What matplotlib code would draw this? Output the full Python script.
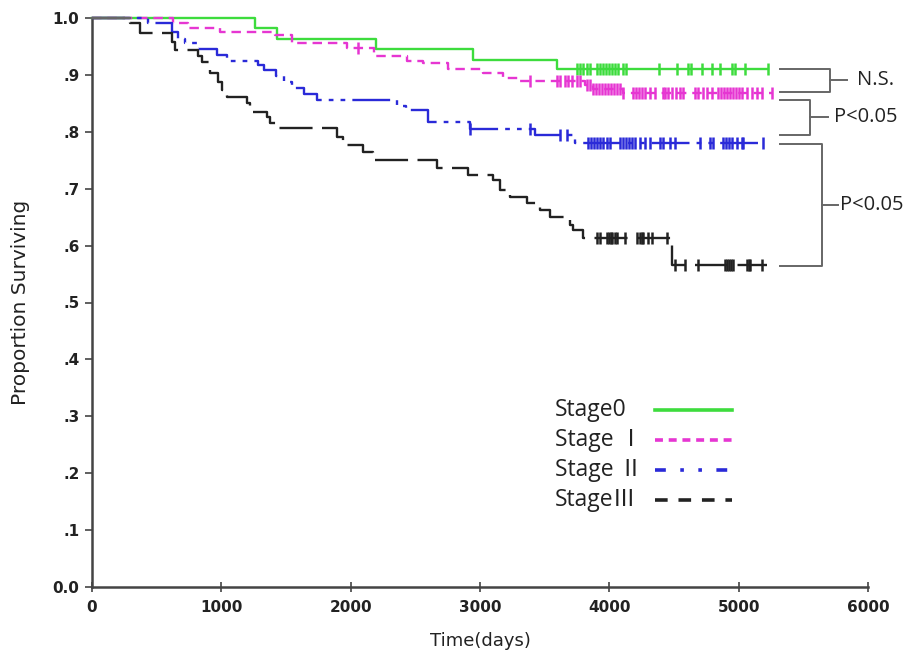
import numpy as np
import matplotlib
matplotlib.use("Agg")
import matplotlib.pyplot as plt

# ---- data ----
stage0_t = [0, 1261, 1430, 2194, 2944, 3596]
stage0_s = [1.0, 0.982, 0.963, 0.945, 0.926, 0.910]
stage0_end = 5230
stage0_cens = [3751, 3774, 3797, 3828, 3851, 3906, 3929, 3952, 3975, 3998, 4022,
               4045, 4068, 4107, 4130, 4385, 4524, 4609, 4632, 4718, 4795, 4857,
               4950, 4973, 5050, 5228]

stage1_t = [0, 626, 740, 990, 1415, 1547, 1971, 2180, 2434, 2557, 2750, 3024,
            3180, 3295, 3813, 3874, 4107]
stage1_s = [1.0, 0.991, 0.982, 0.976, 0.970, 0.956, 0.947, 0.933, 0.925, 0.921,
            0.910, 0.903, 0.895, 0.889, 0.882, 0.875, 0.868]
stage1_end = 5260
stage1_cens = [2057, 3387, 3596, 3619, 3658, 3681, 3712, 3751, 3774, 3828, 3851,
               3874, 3898, 3921, 3944, 3967, 3990, 4014, 4037, 4060, 4083, 4107,
               4184, 4207, 4230, 4253, 4276, 4315, 4354, 4416, 4431, 4454, 4485,
               4516, 4547, 4571, 4664, 4687, 4726, 4757, 4795, 4842, 4865, 4888,
               4911, 4934, 4957, 4981, 5004, 5027, 5066, 5104, 5143, 5182, 5259]

stage2_t = [0, 433, 620, 665, 720, 820, 965, 1040, 1280, 1330, 1420, 1485, 1550,
            1640, 1740, 2360, 2430, 2600, 2923, 3426, 3735]
stage2_s = [1.0, 0.991, 0.975, 0.963, 0.956, 0.946, 0.935, 0.925, 0.917, 0.909,
            0.898, 0.888, 0.877, 0.866, 0.856, 0.845, 0.838, 0.817, 0.805, 0.794,
            0.780]
stage2_end = 5205
stage2_cens = [2923, 3387, 3619, 3674, 3836, 3859, 3882, 3906, 3929, 3952, 3983,
               4006, 4083, 4107, 4130, 4153, 4176, 4199, 4238, 4277, 4315, 4393,
               4416, 4470, 4509, 4702, 4780, 4803, 4880, 4903, 4927, 4950, 4988,
               5027, 5035, 5189]

stage3_t = [0, 294, 371, 619, 640, 820, 850, 910, 975, 1005, 1045, 1199, 1225,
            1350, 1375, 1440, 1895, 1940, 2096, 2173, 2668, 2908, 3101, 3155,
            3233, 3364, 3465, 3542, 3697, 3720, 3797, 4486]
stage3_s = [1.0, 0.991, 0.974, 0.958, 0.944, 0.933, 0.923, 0.903, 0.888, 0.873,
            0.861, 0.850, 0.835, 0.826, 0.815, 0.807, 0.791, 0.777, 0.765, 0.750,
            0.736, 0.724, 0.715, 0.697, 0.685, 0.675, 0.662, 0.650, 0.636, 0.627,
            0.613, 0.566]
stage3_end = 5220
stage3_cens = [3906, 3929, 3983, 3998, 4014, 4022, 4045, 4060, 4122, 4215, 4238,
               4253, 4261, 4300, 4331, 4447, 4509, 4586, 4687, 4896, 4911, 4927,
               4942, 4957, 5066, 5081, 5089, 5182]

labels = ["Stage0", "Stage \u2160", "Stage \u2161", "Stage\u2162"]
colors = ["#3ddc3d", "#e636d2", "#2a2ad8", "#222222"]
styles = ["-", (0, (4, 2.5)), (0, (16, 3, 2, 3, 2, 3)), (0, (14, 4))]
legend_styles = ["-", (0, (2.2, 1.6)), (0, (3, 4, 1, 4, 1, 4)), (0, (3.5, 3))]

xticks = [0, 1000, 2000, 3000, 4000, 5000, 6000]
yticks = [0.0, 0.1, 0.2, 0.3, 0.4, 0.5, 0.6, 0.7, 0.8, 0.9, 1.0]
ytick_labels = ["0.0", ".1", ".2", ".3", ".4", ".5", ".6", ".7", ".8", ".9", "1.0"]

# ---- figure ----
fig = plt.figure(figsize=(9.09, 6.59), dpi=100)
ax = fig.add_axes([92 / 909, 72 / 659, 776 / 909, 569 / 659])

series = [
    (stage0_t, stage0_s, stage0_end, stage0_cens),
    (stage1_t, stage1_s, stage1_end, stage1_cens),
    (stage2_t, stage2_s, stage2_end, stage2_cens),
    (stage3_t, stage3_s, stage3_end, stage3_cens),
]

for i, (t, s, end, cens) in enumerate(series):
    tt = list(t) + [end]
    ss = list(s) + [s[-1]]
    ax.step(tt, ss, where="post", color=colors[i], lw=1.7,
            linestyle=styles[i], clip_on=False, zorder=3 + i * 0.1)
    idx = np.searchsorted(np.array(t), np.array(cens), side="right") - 1
    cy = np.array(s)[idx]
    ax.plot(cens, cy, linestyle="none", marker="|", markersize=8,
            markeredgewidth=1.8, color=colors[i], clip_on=False, zorder=3)

# grey start segment
ax.plot([0, 294], [1.0, 1.0], color="#666666", lw=1.7, clip_on=False, zorder=4)

ax.set_xlim(0, 6000)
ax.set_ylim(0, 1.0)
ax.set_xticks(xticks)
ax.set_xticklabels([str(v) for v in xticks])
ax.set_yticks(yticks)
ax.set_yticklabels(ytick_labels)
for sp in ["top", "right"]:
    ax.spines[sp].set_visible(False)
for sp in ["left", "bottom"]:
    ax.spines[sp].set_color("#444444")
    ax.spines[sp].set_linewidth(1.8)
ax.tick_params(axis="y", direction="out", length=5, width=1.2, colors="#444444",
               labelcolor="#222222", labelsize=11, pad=4)
ax.tick_params(axis="x", direction="inout", length=7, width=1.2, colors="#444444",
               labelcolor="#222222", labelsize=11, pad=6)
for lab in ax.get_xticklabels() + ax.get_yticklabels():
    lab.set_fontweight("semibold")

ax.set_xlabel("Time(days)", fontsize=13, color="#222222", labelpad=12)
ax.set_ylabel("Proportion Surviving", fontsize=14.5, color="#222222", labelpad=16)

# legend (drawn manually, frameless)
leg_y = [0.311, 0.258, 0.206, 0.153]
for i in range(4):
    ax.text(0.597, leg_y[i], labels[i], transform=ax.transAxes, ha="left",
            va="center", fontsize=16.5, color="#222222",
            family=["Open Sans", "Noto Sans CJK JP"])
    ax.plot([0.7255, 0.8247], [leg_y[i], leg_y[i]], transform=ax.transAxes,
            color=colors[i], lw=2.6, linestyle=legend_styles[i], clip_on=False)

# significance brackets
bc = "#666666"
blw = 1.4
def bracket(x0, x1, y_top, y_bot, xt, ymid, text, xtext):
    ax.plot([x0, x1, x1, x0], [y_top, y_top, y_bot, y_bot], color=bc, lw=blw,
            clip_on=False)
    ax.plot([x1, xt], [ymid, ymid], color=bc, lw=blw, clip_on=False)
    ax.text(xtext, ymid, text, ha="left", va="center", fontsize=14.5,
            family=["Open Sans", "DejaVu Sans"], color="#222222", clip_on=False)

bracket(5321, 5708, 0.910, 0.870, 5839, 0.891, "N.S.", 5916)
bracket(5321, 5553, 0.856, 0.794, 5692, 0.826, "P<0.05", 5740)
bracket(5321, 5646, 0.779, 0.564, 5770, 0.671, "P<0.05", 5785)

fig.savefig("out.png", dpi=100)
